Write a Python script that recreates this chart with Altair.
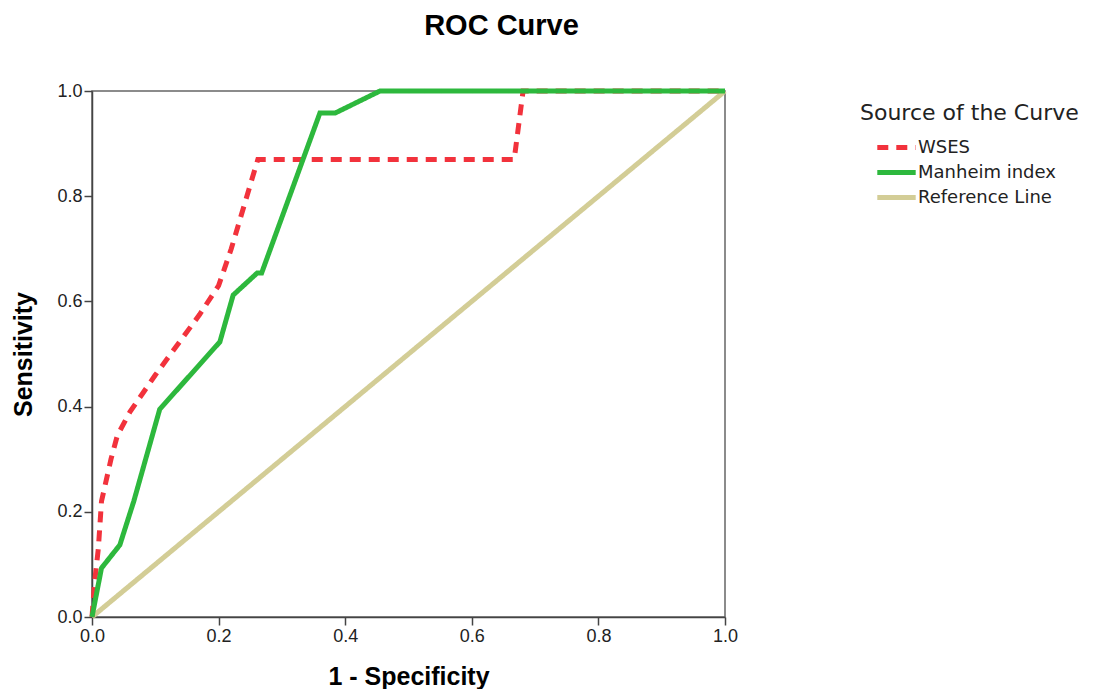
import altair as alt
import pandas as pd

wses_x = [0.0, 0.004, 0.01, 0.015, 0.03, 0.04, 0.06, 0.10, 0.17, 0.20, 0.22, 0.262, 0.667, 0.681, 1.0]
wses_y = [0.0, 0.065, 0.13, 0.22, 0.30, 0.345, 0.39, 0.46, 0.575, 0.63, 0.70, 0.87, 0.87, 1.0, 1.0]

man_x = [0.0, 0.015, 0.044, 0.066, 0.107, 0.202, 0.223, 0.261, 0.268, 0.360, 0.384, 0.455, 1.0]
man_y = [0.0, 0.093, 0.137, 0.22, 0.395, 0.523, 0.612, 0.654, 0.654, 0.958, 0.958, 1.0, 1.0]

ref_x = [0.0, 1.0]
ref_y = [0.0, 1.0]

series = ["WSES", "Manheim index", "Reference Line"]
colors = ["#f2323c", "#2db83d", "#d3cd96"]
dashes = [[11, 8], [1, 0], [1, 0]]
widths = [5, 5, 4]
ticks = [0, 0.2, 0.4, 0.6, 0.8, 1.0]

rows = []
for name, xs, ys in [("Reference Line", ref_x, ref_y), ("WSES", wses_x, wses_y), ("Manheim index", man_x, man_y)]:
    for i, (a, b) in enumerate(zip(xs, ys)):
        rows.append({"series": name, "x": a, "y": b, "i": i})
df = pd.DataFrame(rows)

chart = alt.Chart(df).mark_line(strokeCap="butt", strokeJoin="miter").encode(
    x=alt.X("x:Q", title="1 - Specificity", scale=alt.Scale(domain=[0, 1], nice=False),
            axis=alt.Axis(values=ticks, format=".1f", grid=False, labelFlush=False,
                          titlePadding=19)),
    y=alt.Y("y:Q", title="Sensitivity", scale=alt.Scale(domain=[0, 1], nice=False),
            axis=alt.Axis(values=ticks, format=".1f", grid=False, labelFlush=False,
                          titlePadding=20)),
    color=alt.Color("series:N", scale=alt.Scale(domain=series, range=colors),
                    legend=alt.Legend(title="Source of the Curve", orient="none",
                                      legendX=768, legendY=12)),
    strokeDash=alt.StrokeDash("series:N", scale=alt.Scale(domain=series, range=dashes), legend=None),
    strokeWidth=alt.StrokeWidth("series:N", scale=alt.Scale(domain=series, range=widths), legend=None),
    order=alt.Order("i:Q"),
).properties(
    width=633, height=526,
    title=alt.TitleParams("ROC Curve", dx=93, offset=40, fontSize=29, fontWeight="bold",
                          font="Liberation Sans", color="#000"),
    autosize=alt.AutoSizeParams(type="none"),
    padding={"left": 84, "top": 83, "right": 366, "bottom": 72},
).configure_view(
    stroke="#666", strokeWidth=1.5
).configure_axis(
    labelFont="Liberation Sans", labelFontSize=18, labelColor="#222",
    titleFont="Liberation Sans", titleFontSize=25, titleFontWeight="bold", titleColor="#000",
    domainColor="#444", domainWidth=1.5, tickColor="#444", tickWidth=1.5, tickSize=8,
    labelPadding=2,
).configure_legend(
    titleFont="DejaVu Sans", titleFontSize=22, titleFontWeight="normal", titleColor="#222",
    titleLimit=400, labelLimit=300,
    labelFont="DejaVu Sans", labelFontSize=18, labelColor="#222",
    symbolType="M-1.6,0H1.6", symbolSize=576, symbolStrokeWidth=5, rowPadding=0,
    symbolOffset=22, titlePadding=8, labelOffset=7, padding=0,
)

chart.save("out.html", embed_options={"renderer": "svg", "actions": False})
